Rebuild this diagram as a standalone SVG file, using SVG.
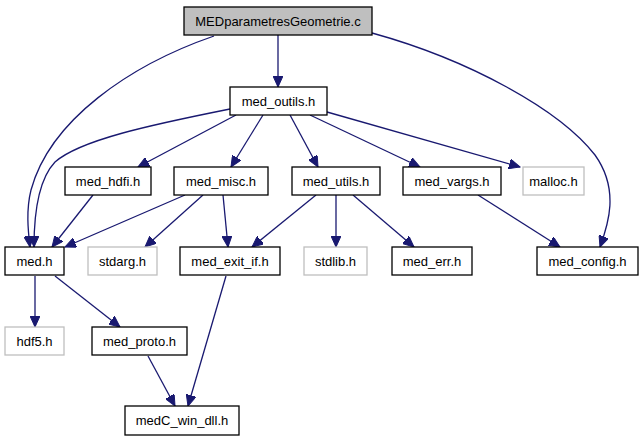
<svg xmlns="http://www.w3.org/2000/svg" width="643" height="443" viewBox="0 0 643 443">
<defs>
<style>
.n rect{fill:#fff;stroke:#000;stroke-width:1.3}
.n.g rect{stroke:#bfbfbf}
.n.root rect{fill:#bfbfbf}
.n text{font-family:"Liberation Sans",Arial,sans-serif;font-size:13px;text-anchor:middle;fill:#000}
#edges path{fill:none;stroke:#191970;stroke-width:1.3;marker-end:url(#ah)}
</style>
<marker id="ah" markerUnits="userSpaceOnUse" markerWidth="12" markerHeight="10" viewBox="0 0 12 10" refX="11" refY="5" orient="auto">
<path d="M0,0 L11,5 L0,10 Z" fill="#191970" stroke="#191970"/>
</marker>
</defs>
<rect width="643" height="443" fill="#fff"/>
<g id="edges">
<path d="M278,35 L278,87"/>
<path d="M214,36 C130,65 50,120 31,190 C 26,210 28,230 30,247"/>
<path d="M372,33 C470,60 560,110 595,155 C 620,190 608,225 600,247"/>
<path d="M230,109 C150,125 80,140 55,162 C 38,180 34,215 34,247"/>
<path d="M236,115 L138,167"/>
<path d="M263,115 L231,167"/>
<path d="M290,115 L318,167"/>
<path d="M310,115 L420,167"/>
<path d="M327,112 L520,167"/>
<path d="M93,195 L52,247"/>
<path d="M185,195 L65,247"/>
<path d="M203,195 L145,247"/>
<path d="M223,195 L228,247"/>
<path d="M316,195 L252,247"/>
<path d="M336,195 L336,247"/>
<path d="M353,195 L414,247"/>
<path d="M478,195 L560,247"/>
<path d="M35,276 L35,327"/>
<path d="M55,276 L120,327"/>
<path d="M148,356 L175,406"/>
<path d="M226,276 L188,406"/>
</g>
<g id="MEDparametresGeometrie" class="n root"><rect x="184" y="7" width="188" height="28"/><text x="278" y="25.5">MEDparametresGeometrie.c</text></g>
<g id="med_outils" class="n"><rect x="230" y="87" width="97" height="28"/><text x="278.5" y="105.5">med_outils.h</text></g>
<g id="med_hdfi" class="n"><rect x="65" y="167" width="86" height="28"/><text x="108" y="185.5">med_hdfi.h</text></g>
<g id="med_misc" class="n"><rect x="174" y="167" width="94" height="28"/><text x="221" y="185.5">med_misc.h</text></g>
<g id="med_utils" class="n"><rect x="292" y="167" width="88" height="28"/><text x="336" y="185.5">med_utils.h</text></g>
<g id="med_vargs" class="n"><rect x="403" y="167" width="98" height="28"/><text x="452" y="185.5">med_vargs.h</text></g>
<g id="malloc" class="n g"><rect x="523" y="167" width="61" height="28"/><text x="553.5" y="185.5">malloc.h</text></g>
<g id="med" class="n"><rect x="5" y="247" width="59" height="28"/><text x="34.5" y="265.5">med.h</text></g>
<g id="stdarg" class="n g"><rect x="88" y="247" width="69" height="28"/><text x="122.5" y="265.5">stdarg.h</text></g>
<g id="med_exit_if" class="n"><rect x="180" y="247" width="100" height="28"/><text x="230" y="265.5">med_exit_if.h</text></g>
<g id="stdlib" class="n g"><rect x="304" y="247" width="63" height="28"/><text x="335.5" y="265.5">stdlib.h</text></g>
<g id="med_err" class="n"><rect x="392" y="247" width="80" height="28"/><text x="432" y="265.5">med_err.h</text></g>
<g id="med_config" class="n"><rect x="537" y="247" width="101" height="28"/><text x="587.5" y="265.5">med_config.h</text></g>
<g id="hdf5" class="n g"><rect x="5" y="327" width="59" height="28"/><text x="34.5" y="345.5">hdf5.h</text></g>
<g id="med_proto" class="n"><rect x="92" y="327" width="95" height="28"/><text x="139.5" y="345.5">med_proto.h</text></g>
<g id="medC_win_dll" class="n"><rect x="125" y="406" width="114" height="29"/><text x="182" y="425">medC_win_dll.h</text></g>
</svg>
